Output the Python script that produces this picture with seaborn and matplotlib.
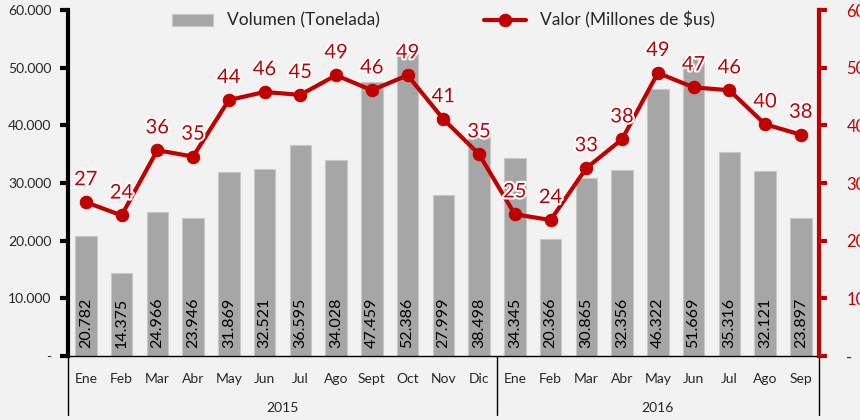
import numpy as np
import pandas as pd
import matplotlib
matplotlib.use("Agg")
import matplotlib.pyplot as plt
import matplotlib.patheffects as pe
import seaborn as sns

months = ["Ene", "Feb", "Mar", "Abr", "May", "Jun", "Jul", "Ago", "Sept", "Oct", "Nov", "Dic",
          "Ene", "Feb", "Mar", "Abr", "May", "Jun", "Jul", "Ago", "Sep"]
years = ["2015"] * 12 + ["2016"] * 9
volumen = [20782, 14375, 24966, 23946, 31869, 32521, 36595, 34028, 47459, 52386, 27999, 38498,
           34345, 20366, 30865, 32356, 46322, 51669, 35316, 32121, 23897]
valor = [26.7, 24.4, 35.7, 34.6, 44.4, 45.8, 45.3, 48.7, 46.1, 48.7, 41.1, 35.0,
         24.6, 23.6, 32.6, 37.6, 49.1, 46.6, 46.1, 40.2, 38.4]
left_ticks = [0, 10000, 20000, 30000, 40000, 50000, 60000]
left_labels = ["-", "10.000", "20.000", "30.000", "40.000", "50.000", "60.000"]
right_ticks = [0, 10, 20, 30, 40, 50, 60]
right_labels = ["-", "10", "20", "30", "40", "50", "60"]

sns.set_style("white")
plt.rcParams["font.family"] = ["Lato", "DejaVu Sans"]

RED = "#c00000"
BG = "#f2f2f2"

keys = [f"{y}-{m}-{i}" for i, (y, m) in enumerate(zip(years, months))]
df = pd.DataFrame({"key": keys, "volumen": volumen, "valor": valor, "pos": np.arange(len(keys))})

fig = plt.figure(figsize=(8.6, 4.2), dpi=100, facecolor=BG)
ax = fig.add_axes([0.079, 0.152, 0.873, 0.824], facecolor=BG)

sns.barplot(data=df, x="key", y="volumen", order=keys, color="#a6a6a6", width=0.6,
            saturation=1, edgecolor="#c8c8c8", linewidth=0.8, ax=ax, label="Volumen (Tonelada)")
ax.set_xlim(-0.5, len(keys) - 0.5)
ax.set_ylim(0, 60000)
ax.set_yticks(left_ticks)
ax.set_yticklabels(left_labels, fontsize=10)
ax.set_xticks(np.arange(len(keys)))
ax.set_xticklabels(months, fontsize=10)
ax.tick_params(axis="x", length=0, pad=12)
ax.tick_params(axis="y", length=6, width=3, direction="out", color="black", pad=6)
ax.set_xlabel("")
ax.set_ylabel("")
for s in ["top", "right"]:
    ax.spines[s].set_visible(False)
ax.spines["left"].set_linewidth(3)
ax.spines["left"].set_color("black")
ax.spines["bottom"].set_linewidth(1)
ax.spines["bottom"].set_color("black")

for i, v in enumerate(volumen):
    ax.text(i, 1400, f"{v:,}".replace(",", "."), rotation=90, ha="center", va="bottom",
            fontsize=11.5, color="black")

ax2 = ax.twinx()
sns.lineplot(data=df, x="pos", y="valor", color=RED, linewidth=3, marker="o", markersize=9,
             markeredgecolor=RED, ax=ax2, label="Valor (Millones de $us)", legend=False)
ax2.set_ylim(0, 60)
ax2.set_yticks(right_ticks)
ax2.set_yticklabels(right_labels, fontsize=12, color=RED)
ax2.tick_params(axis="y", length=6, width=3, direction="out", color=RED, pad=14)
ax2.set_xlabel("")
ax2.set_ylabel("")
for s in ["top", "left", "bottom"]:
    ax2.spines[s].set_visible(False)
ax2.spines["right"].set_linewidth(3)
ax2.spines["right"].set_color(RED)

for i, v in enumerate(valor):
    ax2.annotate(f"{v:.0f}", (i, v), xytext=(0, 10), textcoords="offset points",
                 ha="center", va="bottom", fontsize=14.5, color=RED,
                 path_effects=[pe.withStroke(linewidth=3, foreground="white")])

# group separators and year labels
trans = ax.get_xaxis_transform()
for xpos in [-0.5, 11.5, len(keys) - 0.5]:
    ax.plot([xpos, xpos], [0, -0.17], transform=trans, color="black", lw=1, clip_on=False)
ax.text(5.5, -0.15, "2015", transform=trans, ha="center", va="center", fontsize=10)
ax.text(16, -0.15, "2016", transform=trans, ha="center", va="center", fontsize=10)

h1, l1 = ax.get_legend_handles_labels()
h2, l2 = ax2.get_legend_handles_labels()
leg = ax.legend(h1 + h2, l1 + l2, loc="upper center", bbox_to_anchor=(0.5, 1.04), ncol=2,
                frameon=False, fontsize=12.5, handlelength=2.4, columnspacing=6)
ax.set_zorder(0)
ax2.set_zorder(1)
ax2.patch.set_visible(False)
leg.remove()
ax2.add_artist(leg)

fig.savefig("out.png", dpi=100, facecolor=BG)
